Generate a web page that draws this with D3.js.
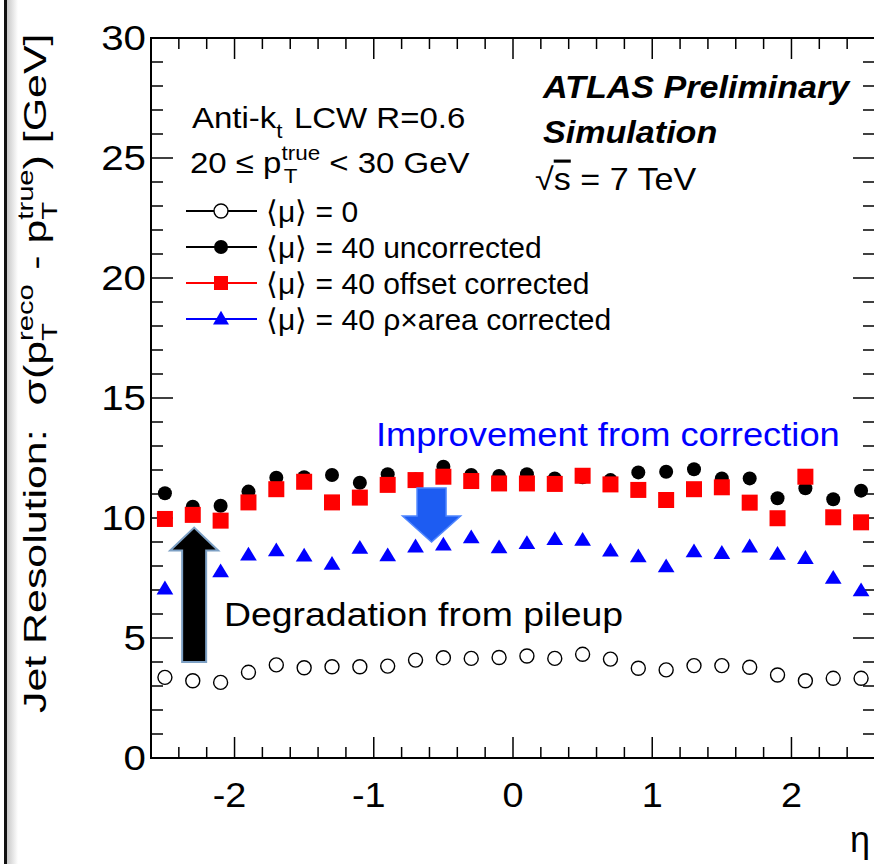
<!DOCTYPE html>
<html>
<head>
<meta charset="utf-8">
<script src="https://cdn.jsdelivr.net/npm/d3@7"></script>
<style>
  html, body { margin: 0; padding: 0; background: #fff; }
  svg { display: block; }
  text { font-family: "Liberation Sans", Arial, Helvetica, sans-serif; white-space: pre; }
</style>
</head>
<body>
<svg id="chart" width="874" height="864"></svg>
<script>
// eta bin centres
const eta = [-2.5, -2.3, -2.1, -1.9, -1.7, -1.5, -1.3, -1.1, -0.9, -0.7, -0.5, -0.3, -0.1,
             0.1, 0.3, 0.5, 0.7, 0.9, 1.1, 1.3, 1.5, 1.7, 1.9, 2.1, 2.3, 2.5];

// <mu> = 0
const mu0 = [3.36, 3.22, 3.15, 3.57, 3.88, 3.76, 3.80, 3.80, 3.83, 4.08, 4.18, 4.15, 4.19,
             4.25, 4.15, 4.32, 4.12, 3.74, 3.67, 3.85, 3.85, 3.78, 3.46, 3.22, 3.32, 3.32];
// <mu> = 40 uncorrected
const mu40 = [11.03, 10.47, 10.51, 11.10, 11.68, 11.70, 11.79, 11.47, 11.82, 11.60, 12.14, 11.79, 11.75,
              11.82, 11.65, 11.70, 11.58, 11.90, 11.93, 12.03, 11.65, 11.65, 10.82, 11.24, 10.78, 11.14];
// <mu> = 40 offset corrected
const mu40Offset = [9.96, 10.13, 9.89, 10.65, 11.20, 11.51, 10.65, 10.85, 11.38, 11.58, 11.72, 11.54, 11.44,
                    11.44, 11.42, 11.76, 11.40, 11.17, 10.75, 11.20, 11.28, 10.64, 9.99, 11.72, 10.03, 9.82];
// <mu> = 40 rho x area corrected
const mu40RhoArea = [7.05, 7.60, 7.76, 8.46, 8.64, 8.42, 8.08, 8.74, 8.43, 8.80, 8.88, 9.18, 8.76,
                     8.94, 9.11, 9.08, 8.63, 8.39, 7.97, 8.60, 8.53, 8.80, 8.49, 8.32, 7.49, 6.97];

const xTicks = [-2, -1, 0, 1, 2];
const yTicks = [0, 5, 10, 15, 20, 25, 30];

const svg = d3.select("#chart");
const SX = 1.1; // the picture is a bit stretched horizontally

const x = d3.scaleLinear().domain([-2.6, 2.6]).range([151, 875]);
const y = d3.scaleLinear().domain([0, 30]).range([758, 38]);

// page edge on the left
const grad = svg.append("defs").append("linearGradient").attr("id", "edge");
grad.append("stop").attr("offset", "0%").attr("stop-color", "#c8c8c8");
grad.append("stop").attr("offset", "100%").attr("stop-color", "#ffffff");
svg.append("rect").attr("x", 7).attr("y", 0).attr("width", 11).attr("height", 864).attr("fill", "url(#edge)");
svg.append("rect").attr("x", 4).attr("y", 0).attr("width", 3).attr("height", 864).attr("fill", "#111");

// helper: text with sub/superscripts, laid out by measuring widths
function rich(parent, tx, ty, parts, size, opts = {}) {
  const g = parent.append("g").attr("transform", opts.transform || `translate(${tx},${ty}) scale(${SX},1)`);
  let cx = 0;
  parts.forEach((p) => {
    if (typeof p === "string") {
      const t = g.append("text").attr("x", cx).attr("y", 0).attr("font-size", size)
        .attr("fill", opts.fill || "#000").text(p);
      cx += t.node().getComputedTextLength();
    } else {
      let w = 0;
      if (p.sup) {
        const t = g.append("text").attr("x", cx).attr("y", -size * 0.42).attr("font-size", size * 0.68).text(p.sup);
        w = Math.max(w, t.node().getComputedTextLength());
      }
      if (p.sub) {
        const t = g.append("text").attr("x", cx + (p.subDx || 0)).attr("y", size * 0.33).attr("font-size", size * 0.68).text(p.sub);
        w = Math.max(w, t.node().getComputedTextLength());
      }
      cx += w + (p.after || 0);
    }
  });
  return g;
}

// axes frame
const frame = svg.append("g");
frame.append("rect").attr("x", x(-2.6)).attr("y", y(30)).attr("width", x(2.6) - x(-2.6)).attr("height", y(0) - y(30))
  .attr("fill", "none").attr("stroke", "#000").attr("stroke-width", 2);

const yMinor = d3.range(0, 30.01, 1);
const xMinor = d3.range(-2.6, 2.61, 0.2).map((v) => +v.toFixed(1));
yMinor.forEach((v) => {
  const len = v % 5 === 0 ? 22 : 12;
  frame.append("line").attr("x1", x(-2.6)).attr("x2", x(-2.6) + len).attr("y1", y(v)).attr("y2", y(v)).attr("stroke", "#000").attr("stroke-width", 1.5);
  frame.append("line").attr("x1", x(2.6)).attr("x2", x(2.6) - len).attr("y1", y(v)).attr("y2", y(v)).attr("stroke", "#000").attr("stroke-width", 1.5);
});
xMinor.forEach((v) => {
  const len = Math.abs(v - Math.round(v)) < 1e-6 ? 21 : 11;
  frame.append("line").attr("x1", x(v)).attr("x2", x(v)).attr("y1", y(0)).attr("y2", y(0) - len).attr("stroke", "#000").attr("stroke-width", 1.5);
  frame.append("line").attr("x1", x(v)).attr("x2", x(v)).attr("y1", y(30)).attr("y2", y(30) + len).attr("stroke", "#000").attr("stroke-width", 1.5);
});

// tick labels
yTicks.forEach((v) => {
  svg.append("text").attr("transform", `translate(146,${y(v) + 12}) scale(1.15,1)`)
    .attr("text-anchor", "end").attr("font-size", 35).text(v);
});
xTicks.forEach((v) => {
  svg.append("text").attr("transform", `translate(${x(v) - (v < 0 ? 5 : 0)},${y(0) + 49}) scale(1.08,1)`)
    .attr("text-anchor", "middle").attr("font-size", 35).text(v);
});

// axis titles
rich(svg, 0, 0, ["Jet Resolution:  σ(p", { sup: "reco", sub: "T", after: 2 }, " - p", { sup: "true", sub: "T" }, ") [GeV]"], 32,
  { transform: "translate(46,713) rotate(-90) scale(1.34,1)" });
svg.append("text").attr("x", 860).attr("y", 852).attr("text-anchor", "middle")
  .attr("font-family", "Liberation Serif, DejaVu Serif, serif").attr("font-size", 36).text("η");

// data markers
const pts = (vals) => eta.map((e, i) => ({ e, v: vals[i] }));
const plot = svg.append("g");

plot.selectAll("circle.mu0").data(pts(mu0)).join("circle").attr("class", "mu0")
  .attr("cx", (d) => x(d.e)).attr("cy", (d) => y(d.v)).attr("r", 7)
  .attr("fill", "none").attr("stroke", "#000").attr("stroke-width", 1.4);

plot.selectAll("circle.mu40").data(pts(mu40)).join("circle").attr("class", "mu40")
  .attr("cx", (d) => x(d.e)).attr("cy", (d) => y(d.v)).attr("r", 7).attr("fill", "#000");

plot.selectAll("rect.off").data(pts(mu40Offset)).join("rect").attr("class", "off")
  .attr("x", (d) => x(d.e) - 8).attr("y", (d) => y(d.v) - 8).attr("width", 16).attr("height", 16).attr("fill", "#ff0000");

const tri = d3.symbol().type(d3.symbolTriangle).size(110);
plot.selectAll("path.rho").data(pts(mu40RhoArea)).join("path").attr("class", "rho")
  .attr("transform", (d) => `translate(${x(d.e)},${y(d.v) + 1}) scale(1.05,1)`).attr("d", tri).attr("fill", "#0000ff");

// legend / labels
rich(svg, 192, 128, ["Anti-k", { sub: "t", after: 2 }, " LCW R=0.6"], 30);
rich(svg, 190, 173, ["20 ≤ p", { sup: "true", sub: "T", subDx: 2 }, " < 30 GeV"], 30);

const legend = [
  { label: "⟨μ⟩ = 0", color: "#000", marker: "open" },
  { label: "⟨μ⟩ = 40 uncorrected", color: "#000", marker: "dot" },
  { label: "⟨μ⟩ = 40 offset corrected", color: "#ff0000", marker: "square" },
  { label: "⟨μ⟩ = 40 ρ×area corrected", color: "#0000ff", marker: "tri" },
];
const legendY = [211, 247, 283, 319];
legend.forEach((d, i) => {
  const ly = legendY[i];
  svg.append("line").attr("x1", 186).attr("x2", 257).attr("y1", ly).attr("y2", ly).attr("stroke", d.color).attr("stroke-width", 2);
  if (d.marker === "open") svg.append("circle").attr("cx", 221).attr("cy", ly).attr("r", 7).attr("fill", "#fff").attr("stroke", "#000").attr("stroke-width", 1.4);
  if (d.marker === "dot") svg.append("circle").attr("cx", 221).attr("cy", ly).attr("r", 7).attr("fill", "#000");
  if (d.marker === "square") svg.append("rect").attr("x", 214).attr("y", ly - 7).attr("width", 14).attr("height", 14).attr("fill", "#ff0000");
  if (d.marker === "tri") svg.append("path").attr("transform", `translate(221,${ly + 1})`).attr("d", tri).attr("fill", "#0000ff");
  svg.append("text").attr("transform", `translate(266,${ly + 11})`).attr("font-size", 30).text(d.label);
});

svg.append("text").attr("transform", `translate(543,98) scale(${SX},1)`).attr("font-size", 31)
  .attr("font-weight", "bold").attr("font-style", "italic").text("ATLAS Preliminary");
svg.append("text").attr("transform", `translate(543,143) scale(${SX},1)`).attr("font-size", 31)
  .attr("font-weight", "bold").attr("font-style", "italic").text("Simulation");
const rs = svg.append("text").attr("transform", `translate(535,190) scale(${SX},1)`).attr("font-size", 31);
rs.append("tspan").text("√");
rs.append("tspan").attr("text-decoration", "overline").text("s");
rs.append("tspan").text(" = 7 TeV");

// annotation arrows (in data units)
const arrow = (cxv, yTail, yTip, bodyW, headW, headL) => {
  const cx = x(cxv), t = y(yTail), p = y(yTip);
  const dir = p < t ? -1 : 1;
  const hb = p - dir * headL;
  return [[cx - bodyW / 2, t], [cx - bodyW / 2, hb], [cx - headW / 2, hb], [cx, p],
          [cx + headW / 2, hb], [cx + bodyW / 2, hb], [cx + bodyW / 2, t]];
};
svg.append("polygon").attr("points", arrow(-2.29, 4.0, 9.6, 24, 48, 23).join(" "))
  .attr("fill", "#000").attr("stroke", "#7da0c4").attr("stroke-width", 2);
svg.append("polygon").attr("points", arrow(-0.585, 11.25, 9.0, 29, 58, 26).join(" "))
  .attr("fill", "#1d5cf2").attr("stroke", "#4f86ff").attr("stroke-width", 1.5);

svg.append("text").attr("transform", `translate(376,446) scale(${SX},1)`).attr("font-size", 33)
  .attr("fill", "#0000ff").text("Improvement from correction");
svg.append("text").attr("transform", `translate(224,626) scale(${SX},1)`).attr("font-size", 34)
  .text("Degradation from pileup");
</script>
</body>
</html>
